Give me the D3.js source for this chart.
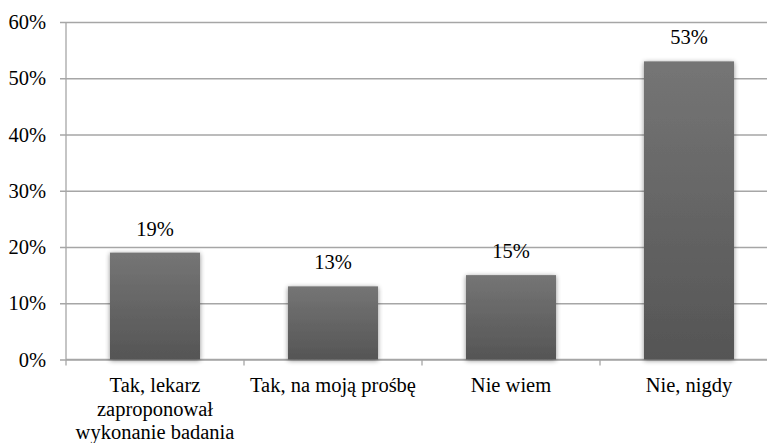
<!DOCTYPE html>
<html>
<head>
<meta charset="utf-8">
<script src="https://cdn.jsdelivr.net/npm/d3@7"></script>
<style>
  html, body { margin: 0; padding: 0; background: #fff; }
  svg { display: block; }
  svg text { font-family: 'Liberation Serif', serif; fill: #000; }
</style>
</head>
<body>
<svg id="chart" width="767" height="443"></svg>
<script>
// Survey answers and their shares
const categories = [
  ["Tak, lekarz", "zaproponował", "wykonanie badania"],
  ["Tak, na moją prośbę"],
  ["Nie wiem"],
  ["Nie, nigdy"]
];
const values = [0.19, 0.13, 0.15, 0.53];
const yTicks = [0, 0.1, 0.2, 0.3, 0.4, 0.5, 0.6];

const FONT = "'Liberation Serif', serif";
const FONT_SIZE = "20.5px";
const svg = d3.select("#chart");
const plotLeft = 66, plotRight = 778, plotTop = 22, plotBottom = 359.5;

const x = d3.scaleBand()
  .domain(d3.range(categories.length))
  .range([plotLeft, plotRight])
  .paddingInner(0.494)
  .paddingOuter(0.247);

const y = d3.scaleLinear().domain([0, 0.6]).range([plotBottom, plotTop]);

const defs = svg.append("defs");
const grad = defs.append("linearGradient")
  .attr("id", "barFill").attr("x1", 0).attr("y1", 0).attr("x2", 0).attr("y2", 1);
grad.append("stop").attr("offset", "0%").attr("stop-color", "#757575");
grad.append("stop").attr("offset", "100%").attr("stop-color", "#555555");

const shadow = defs.append("filter").attr("id", "barShadow")
  .attr("x", "-20%").attr("y", "-10%").attr("width", "140%").attr("height", "125%");
shadow.append("feGaussianBlur").attr("in", "SourceAlpha").attr("stdDeviation", 2.5).attr("result", "blur");
shadow.append("feOffset").attr("in", "blur").attr("dx", 0).attr("dy", 1).attr("result", "off");
shadow.append("feComponentTransfer").attr("in", "off").attr("result", "soft")
  .append("feFuncA").attr("type", "linear").attr("slope", 0.45);
const merge = shadow.append("feMerge");
merge.append("feMergeNode").attr("in", "soft");
merge.append("feMergeNode").attr("in", "SourceGraphic");

// Horizontal gridlines with short outer ticks
const yAxis = d3.axisLeft(y)
  .tickValues(yTicks)
  .tickFormat(d3.format(".0%"))
  .tickSize(-(plotRight - plotLeft))
  .tickSizeOuter(0)
  .tickPadding(20);

const gy = svg.append("g").attr("transform", `translate(${plotLeft},0)`).call(yAxis);
gy.attr("font-family", null).attr("font-size", null);
gy.select(".domain").remove();
gy.selectAll(".tick line")
  .attr("x1", -6)
  .attr("stroke", "#a6a6a6").attr("stroke-width", 1.3);
gy.selectAll(".tick text")
  .style("font-family", FONT).style("font-size", FONT_SIZE).attr("fill", "#000");

// Vertical axis line
svg.append("line")
  .attr("x1", plotLeft).attr("x2", plotLeft).attr("y1", plotTop).attr("y2", plotBottom)
  .attr("stroke", "#a6a6a6").attr("stroke-width", 1.3);

// Category axis ticks at band boundaries
const bounds = d3.range(categories.length + 1).map(i => plotLeft + i * x.step());
svg.append("g").selectAll("line").data(bounds).join("line")
  .attr("x1", d => d).attr("x2", d => d)
  .attr("y1", plotBottom).attr("y2", plotBottom + 6)
  .attr("stroke", "#a6a6a6").attr("stroke-width", 1.3);
svg.append("line")
  .attr("x1", plotLeft).attr("x2", plotRight).attr("y1", plotBottom).attr("y2", plotBottom)
  .attr("stroke", "#a6a6a6").attr("stroke-width", 1.3);

// Bars
svg.append("g").selectAll("rect").data(values).join("rect")
  .attr("x", (d, i) => x(i))
  .attr("width", x.bandwidth())
  .attr("y", d => y(d))
  .attr("height", d => plotBottom - y(d))
  .attr("fill", "url(#barFill)")
  .attr("filter", "url(#barShadow)");

// Value labels
svg.append("g").selectAll("text").data(values).join("text")
  .attr("x", (d, i) => x(i) + x.bandwidth() / 2)
  .attr("y", d => y(d) - 17)
  .attr("text-anchor", "middle")
  .style("font-family", FONT).style("font-size", FONT_SIZE)
  .text(d => d3.format(".0%")(d));

// Category labels
const cat = svg.append("g").selectAll("text").data(categories).join("text")
  .attr("x", (d, i) => x(i) + x.bandwidth() / 2)
  .attr("y", 392)
  .attr("text-anchor", "middle")
  .style("font-family", FONT).style("font-size", FONT_SIZE);
cat.selectAll("tspan").data(d => d).join("tspan")
  .attr("x", function () { return this.parentNode.getAttribute("x"); })
  .attr("dy", (d, i) => i === 0 ? 0 : 23.5)
  .text(d => d);
</script>
</body>
</html>
